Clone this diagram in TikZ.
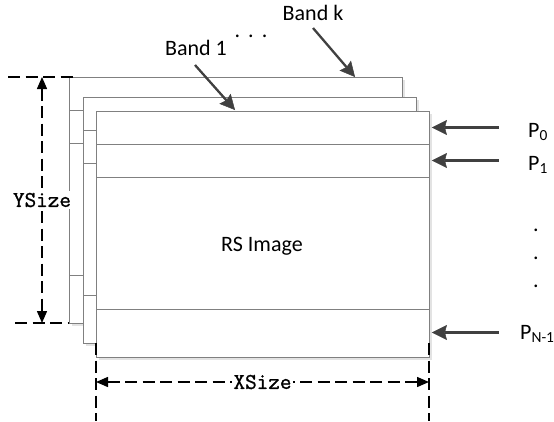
\documentclass[tikz,border=0pt]{standalone}
\usepackage{fontspec}
\setmainfont{Carlito}
\newfontfamily\dimfont[FakeBold=1.2]{Latin Modern Mono}
\usetikzlibrary{arrows.meta,calc}

\tikzset{
  bandbox/.style={draw=gray, line width=0.9pt, fill=white, anchor=north west,
    inner sep=0pt, minimum width=333pt, minimum height=245.5pt},
  rowline/.style={draw=gray, line width=0.9pt},
  bandshade/.style={fill=gray!22},
  lbl/.style={font=\fontsize{22}{26}\selectfont, inner sep=0pt},
  dimlbl/.style={font=\fontsize{22.5}{26}\selectfont\dimfont, fill=white, inner sep=1.5pt},
  ptr/.style={draw=black!75, fill=black!75, line width=2.3pt,
    -{Stealth[length=15pt,width=15pt,inset=2pt,line width=0.5pt]}},
  dimline/.style={draw=black, line width=1.4pt, dash pattern=on 12pt off 5.5pt},
  dimarrow/.style={dimline, {Triangle[length=12pt,width=10pt]}-{Triangle[length=12pt,width=10pt]}},
}

\begin{document}
\begin{tikzpicture}[x=1pt,y=-1pt]
  \useasboundingbox (0,0) rectangle (554,421);

  % stacked bands, back to front
  \foreach \name/\x/\y in {bandk/69/77, bandmid/83/97, bandone/96/111}{
    \fill[bandshade] (\x+3,\y+3) rectangle (\x+336,\y+248.5);
    \node[bandbox] (\name) at (\x,\y) {};
    \foreach \d in {33,66,198.5}
      \draw[rowline] ($(\name.north west)+(0,\d)$) -- ($(\name.north east)+(0,\d)$);
  }
  \node[lbl, anchor=base] (rsimage) at (262,251) {RS Image};

  % band labels
  \node[lbl, anchor=base] (lblone) at (196,55) {Band 1};
  \node[lbl, anchor=base] (lblk) at (313,20) {Band k};
  \node[lbl, anchor=base] (bdots) at (251,37) {.\hskip8pt.\hskip8pt.};
  \coordinate (tailone) at (195,65);
  \coordinate (tailk) at (313,28);
  \coordinate (tipone) at ($(bandone.north west)+(139,-1)$);
  \coordinate (tipk) at ($(bandk.north west)+(286,0)$);
  \draw[ptr] (tailone) -- (tipone);
  \draw[ptr] (tailk) -- (tipk);

  % row pointers
  \coordinate (tipzero) at ($(bandone.north east)+(2,16.5)$);
  \coordinate (tipfirst) at ($(bandone.north east)+(2,49.5)$);
  \coordinate (tiplast) at ($(bandone.north east)+(2,221.5)$);
  \coordinate (tailzero) at ($(tipzero)+(67,0)$);
  \coordinate (tailfirst) at ($(tipfirst)+(67,0)$);
  \coordinate (taillast) at ($(tiplast)+(67,0)$);
  \draw[ptr] (tailzero) -- (tipzero);
  \draw[ptr] (tailfirst) -- (tipfirst);
  \draw[ptr] (taillast) -- (tiplast);
  \node[lbl, anchor=base west] (pzero) at (528,137) {P\textsubscript{0}};
  \node[lbl, anchor=base west] (pfirst) at (528,170) {P\textsubscript{1}};
  \node[lbl, anchor=base west] (plast) at (520,339) {P\textsubscript{N-1}};
  \foreach \y in {230,258,286}
    \node[lbl, anchor=base] (pdot\y) at (536,\y+1.5) {.};

  % YSize
  \coordinate (ytop) at (42,77);
  \coordinate (ybot) at (42,323);
  \coordinate (yexta) at (8,77);
  \coordinate (yextb) at (77,77);
  \coordinate (yextc) at (15,323);
  \coordinate (yextd) at (69,323);
  \draw[dimline] (yexta) -- (yextb);
  \draw[dimline] (yextc) -- (yextd);
  \draw[dimarrow] (ytop) -- node[dimlbl] (ysize) {YSize} (ybot);

  % XSize
  \coordinate (xleft) at (96,382);
  \coordinate (xright) at (429,382);
  \coordinate (xexta) at (96,343);
  \coordinate (xextb) at (96,421);
  \coordinate (xextc) at (429,343);
  \coordinate (xextd) at (429,421);
  \draw[dimline] (xexta) -- (xextb);
  \draw[dimline] (xextc) -- (xextd);
  \draw[dimarrow] (xleft) -- node[dimlbl] (xsize) {XSize} (xright);
\end{tikzpicture}
\end{document}
